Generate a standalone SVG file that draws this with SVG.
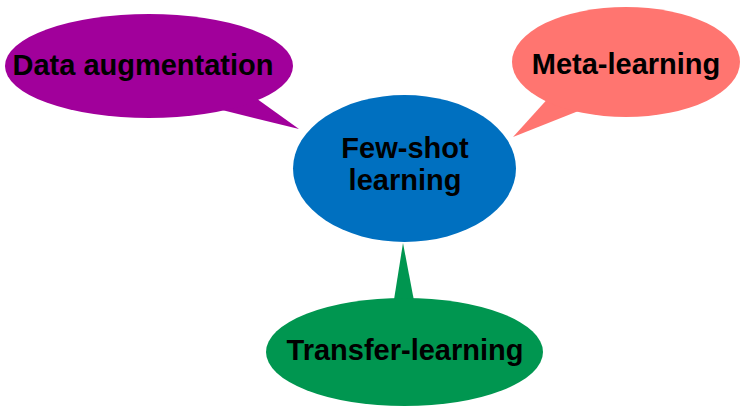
<svg xmlns="http://www.w3.org/2000/svg" width="741" height="406" viewBox="0 0 741 406">
  <style>
    .label { font-family: "Liberation Sans", Arial, Helvetica, sans-serif; font-weight: bold; font-size: 29px; fill: #000; text-anchor: middle; }
  </style>
  <rect width="741" height="406" fill="#fff"/>

  <!-- speech-bubble pointers toward the central topic -->
  <g id="connectors">
    <polygon points="250,94 299,129 218,109" fill="#A1009B"/>
    <polygon points="552,94 513,137 586,108" fill="#FF7570"/>
    <polygon points="393,306 403,243 415,306" fill="#009650"/>
  </g>

  <g id="data-augmentation">
    <ellipse cx="149" cy="66" rx="144" ry="52" fill="#A1009B"/>
    <text class="label" x="143" y="75">Data augmentation</text>
  </g>

  <g id="meta-learning">
    <ellipse cx="626" cy="62" rx="114" ry="55" fill="#FF7570"/>
    <text class="label" x="626" y="74">Meta-learning</text>
  </g>

  <g id="few-shot-learning">
    <ellipse cx="404.5" cy="168.5" rx="111.5" ry="73.5" fill="#0070C0"/>
    <text class="label" x="405" y="158">Few-shot</text>
    <text class="label" x="405" y="190">learning</text>
  </g>

  <g id="transfer-learning">
    <ellipse cx="404.5" cy="352" rx="138.5" ry="54" fill="#009650"/>
    <text class="label" x="405" y="360">Transfer-learning</text>
  </g>
</svg>
